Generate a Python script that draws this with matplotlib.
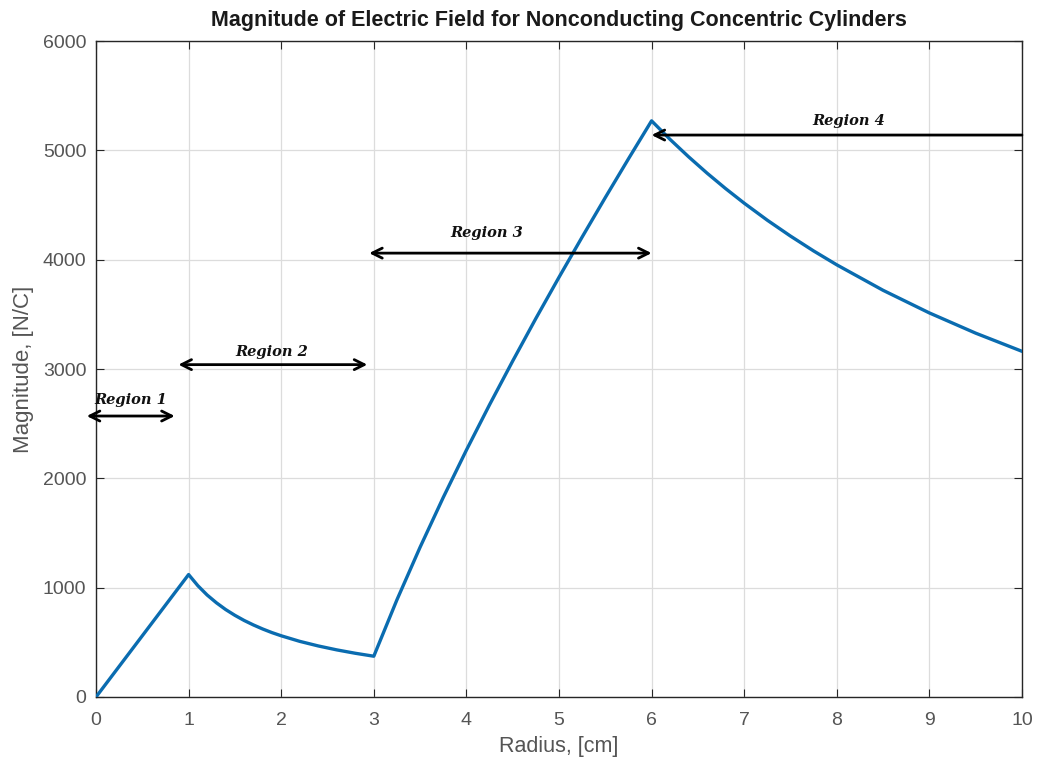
import matplotlib
matplotlib.use("Agg")
import matplotlib.pyplot as plt

radius = [0, 0.5, 1.0,
          1.1, 1.2, 1.3, 1.4, 1.5, 1.6, 1.7, 1.8, 1.9, 2.0, 2.2, 2.4, 2.6, 2.8, 3.0,
          3.25, 3.5, 3.75, 4.0, 4.25, 4.5, 4.75, 5.0, 5.25, 5.5, 5.75, 6.0,
          6.2, 6.4, 6.6, 6.8, 7.0, 7.25, 7.5, 7.75, 8.0, 8.5, 9.0, 9.5, 10.0]
magnitude = [0, 560, 1120,
             1018, 933, 862, 800, 747, 700, 659, 622, 589, 560, 509, 467, 431, 400, 373,
             889, 1370, 1825, 2258, 2673, 3073, 3462, 3839, 4207, 4568, 4922, 5270,
             5100, 4941, 4791, 4650, 4517, 4361, 4216, 4080, 3953, 3720, 3513, 3328, 3162]

region_labels = ["Region 1", "Region 2", "Region 3", "Region 4"]
arrow_start = [-0.1, 0.89, 2.95, 10.0]
arrow_end = [0.85, 2.93, 6.0, 6.0]
arrow_y = [2570, 3040, 4060, 5140]
arrow_style = ["<->", "<->", "<->", "->"]
label_x = [0.38, 1.90, 4.22, 8.13]
label_y = [2720, 3160, 4240, 5270]

xticks = list(range(0, 11))
yticks = [0, 1000, 2000, 3000, 4000, 5000, 6000]

plt.rcParams['font.family'] = ['Liberation Sans', 'DejaVu Sans']

fig = plt.figure(figsize=(10.39, 7.64), dpi=100)
ax = fig.add_axes([0.0924, 0.0877, 0.8912, 0.8586])

ax.plot(radius, magnitude, color='#0a6cb0', linewidth=2.4, zorder=3,
        solid_joinstyle='round')

for lab, x0, x1, y, st, lx, ly in zip(region_labels, arrow_start, arrow_end,
                                       arrow_y, arrow_style, label_x, label_y):
    ax.annotate('', xy=(x1, y), xytext=(x0, y),
                arrowprops=dict(arrowstyle=st, color='black', lw=2.0,
                                mutation_scale=18, shrinkA=0, shrinkB=0),
                annotation_clip=False, zorder=4)
    ax.text(lx, ly, lab, ha='center', va='center', fontsize=10.5,
            fontfamily='DejaVu Serif', fontstyle='italic', fontweight='bold',
            color='#111111', zorder=5, clip_on=False)

ax.set_xlim(0, 10)
ax.set_ylim(0, 6000)
ax.set_xticks(xticks)
ax.set_yticks(yticks)
ax.grid(True, color='#dcdcdc', linewidth=0.9)
ax.set_axisbelow(True)
ax.tick_params(direction='in', top=True, right=True, labelsize=14,
               colors='#262626', labelcolor='#555555', length=6, pad=7)
ax.tick_params(axis='x', pad=11)
for s in ax.spines.values():
    s.set_color('#262626')
    s.set_linewidth(1.0)

ax.set_xlabel('Radius, [cm]', fontsize=15.5, color='#555555', labelpad=5)
ax.set_ylabel('Magnitude, [N/C]', fontsize=16, color='#555555', labelpad=6)
ax.set_title('Magnitude of Electric Field for Nonconducting Concentric Cylinders',
             fontsize=15.5, fontweight='bold', color='#1a1a1a', pad=11)

fig.savefig('out.png', dpi=100)
